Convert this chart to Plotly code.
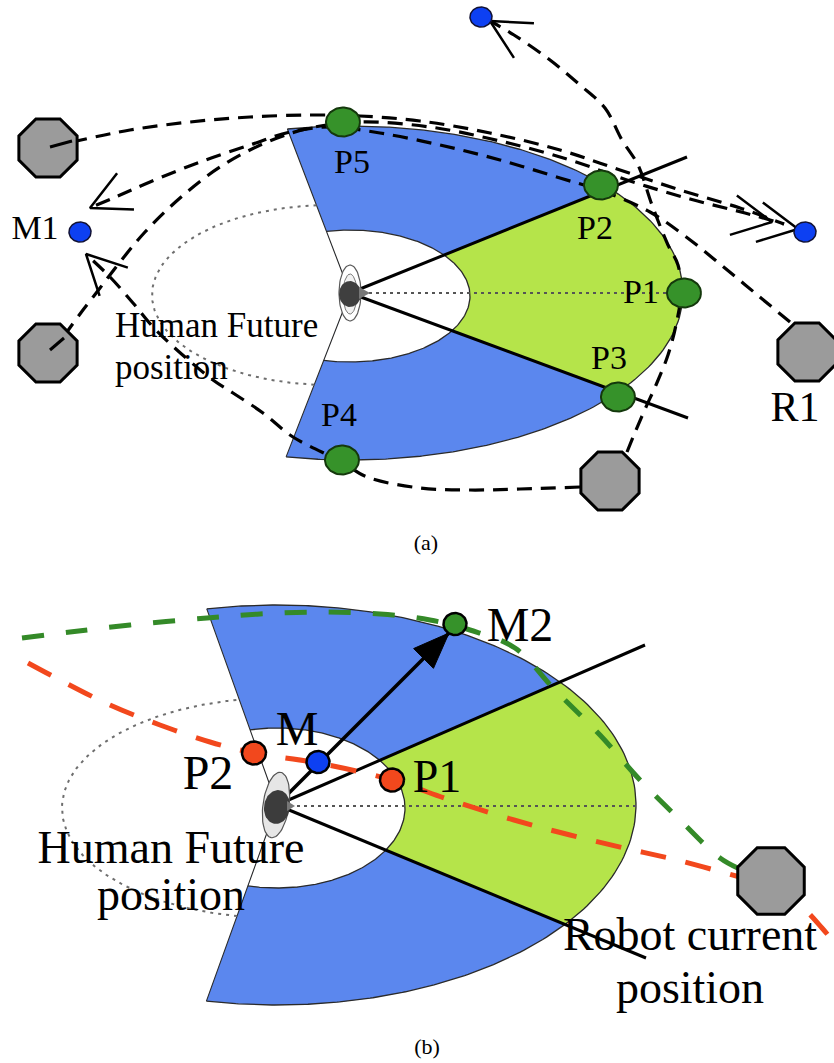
import numpy as np
import plotly.graph_objects as go

W, H = 834, 1063

# ======================= DATA =======================
# ---------- panel (a) ----------
A_HUMAN = [350, 293]
A_OUTER = [350, 293, 333, 167]      # cx, cy, rx, ry
A_INNER = [350, 296, 120, 66]
A_FUTURE = [330, 295, 178, 90]
A_SECTOR_DEG = [-110.9, 111.3]
A_RAY_END_X = [687, 688]
A_RAY_END_Y = [157, 418]
A_AXIS_END_X = [362, 668]
A_AXIS_Y = 293

A_POINT_LABELS = ["P1", "P2", "P3", "P4", "P5"]
A_POINT_X = [684, 601, 618, 342, 343]
A_POINT_Y = [293, 185, 397, 460, 122]
A_LABEL_X = [641, 595, 609, 339, 352]
A_LABEL_Y = [292, 228, 358, 415, 162]

A_GOAL_X = [80, 481, 805]
A_GOAL_Y = [232, 17, 232]

A_ROBOT_X = [48, 48, 610, 807]
A_ROBOT_Y = [148, 353, 481, 352]

A_PATH1_X = [72, 130, 190, 250, 310, 360, 420, 490, 560, 620, 680, 740, 784]
A_PATH1_Y = [142, 130, 122, 117, 115, 116, 121, 133, 150, 170, 190, 208, 224]
A_PATH2_X = [790, 755, 720, 685, 650, 605, 560, 500, 440, 380, 330, 290, 250, 200, 150, 118, 92]
A_PATH2_Y = [322, 293, 264, 236, 212, 192, 178, 160, 145, 133, 127, 132, 145, 162, 182, 196, 207]
A_PATH3_X = [64, 80, 100, 120, 145, 180, 220, 265, 310, 360, 430, 500, 570, 630, 690, 745, 784]
A_PATH3_Y = [336, 314, 288, 262, 232, 198, 167, 143, 128, 122, 127, 141, 160, 181, 199, 213, 224]
A_PATH4_X = [580, 520, 470, 420, 367, 342, 293, 263, 233, 213, 177, 153, 133, 110, 88]
A_PATH4_Y = [487, 489, 490, 488, 477, 462, 437, 413, 393, 380, 350, 327, 303, 277, 256]
A_PATH5_X = [627, 636, 646, 656, 668, 676, 681, 678, 668, 652, 638, 622, 605, 580, 550, 514, 492]
A_PATH5_Y = [452, 430, 407, 385, 355, 325, 293, 265, 245, 205, 165, 140, 108, 85, 60, 35, 22]

A_ARROW_TIP_X = [90, 86, 490, 772, 798]
A_ARROW_TIP_Y = [208, 254, 21, 222, 229]
A_ARROW_BACK_DEG = [-25, 45, 30, 190, 190]

A_ROBOT_HEAD_X = [[50, 72], [50, 64]]
A_ROBOT_HEAD_Y = [[147, 141], [350, 338]]

# ---------- panel (b) ----------
B_HUMAN = [277, 805]
B_OUTER = [277, 805, 359, 200]
B_INNER = [277, 808, 128, 80]
B_FUTURE = [277, 808, 215, 110]
B_SECTOR_DEG = [-109.7, 109.8]
B_RAY_END_X = [645, 646]
B_RAY_END_Y = [645, 958]
B_AXIS_END_X = [290, 636]
B_AXIS_Y = 806

B_M2 = [455, 624]
B_ARROW_TIP = [449, 633]
B_M = [318, 762]
B_RED_LABELS = ["P2", "P1"]
B_RED_X = [254, 392]
B_RED_Y = [753, 780]
B_ROBOT = [771, 881]

B_GREEN_X = [22, 70, 130, 207, 260, 320, 380, 430, 470, 515, 555, 600, 640, 680, 720, 742]
B_GREEN_Y = [638, 632, 625, 618, 614, 612, 614, 620, 630, 648, 690, 735, 780, 820, 858, 870]
B_RED_PATH_X = [28, 60, 110, 160, 210, 254, 318, 392, 450, 514, 570, 624, 677, 740, 771, 800, 822, 850]
B_RED_PATH_Y = [663, 680, 705, 725, 742, 753, 763, 780, 800, 820, 835, 848, 860, 877, 885, 905, 928, 962]

# ---------- text ----------
TEXTS = [
    # text, x, cap-middle y, size, align
    ("P5", 352, 162, 34, "center"),
    ("P2", 595, 228, 34, "center"),
    ("P1", 641, 292, 34, "center"),
    ("P3", 609, 358, 34, "center"),
    ("P4", 339, 415, 34, "center"),
    ("M1", 35, 228, 34, "center"),
    ("R1", 795, 407, 42, "center"),
    ("Human Future", 115, 325, 35, "left"),
    ("position", 115, 367, 35, "left"),
    ("(a)", 426, 543, 22, "center"),
    ("M2", 520, 625, 48, "center"),
    ("M", 297, 729, 48, "center"),
    ("P2", 208, 773, 48, "center"),
    ("P1", 437, 777, 46, "center"),
    ("Human Future", 171, 848, 46, "center"),
    ("position", 171, 895, 46, "center"),
    ("Robot current", 690, 935, 46, "center"),
    ("position", 690, 988, 46, "center"),
    ("(b)", 427, 1047, 22, "center"),
]

# ======================= COLOURS =======================
BLUE = "#5b87ee"
LIME = "#b5e44a"
PT_GREEN = "#36922a"
DASH_GREEN = "#348a28"
RED = "#f2481d"
GOAL_BLUE = "#0d40f2"
GRAY = "#9b9b9b"
EDGE = "#2a2a2a"

fig = go.Figure()


def ray_hit(ell, h, phi_deg):
    cx, cy, rx, ry = ell
    phi = np.radians(np.asarray(phi_deg, dtype=float))
    dx, dy = np.cos(phi), np.sin(phi)
    ex, ey = h[0] - cx, h[1] - cy
    A = (dx / rx) ** 2 + (dy / ry) ** 2
    B = 2 * (ex * dx / rx ** 2 + ey * dy / ry ** 2)
    C = (ex / rx) ** 2 + (ey / ry) ** 2 - 1
    s = (-B + np.sqrt(B * B - 4 * A * C)) / (2 * A)
    return h[0] + s * dx, h[1] + s * dy


def ellipse(cx, cy, rx, ry, rot=0.0, n=72):
    t = np.linspace(0, 2 * np.pi, n)
    x, y = rx * np.cos(t), ry * np.sin(t)
    c, s = np.cos(np.radians(rot)), np.sin(np.radians(rot))
    return cx + c * x - s * y, cy + s * x + c * y


def poly(x, y, fill, line_color=None, line_width=0):
    fig.add_trace(go.Scatter(
        x=list(x), y=list(y), mode="lines", fill="toself", fillcolor=fill,
        line=dict(color=line_color or fill, width=line_width),
        hoverinfo="skip", showlegend=False))


def line(x, y, color, width, dash="solid", shape="linear"):
    fig.add_trace(go.Scatter(
        x=list(x), y=list(y), mode="lines",
        line=dict(color=color, width=width, dash=dash, shape=shape, smoothing=1.0),
        hoverinfo="skip", showlegend=False))


def sector_panel(human, outer, inner, future, sector_deg, ray_x, ray_y, axis_x, axis_y):
    phi1, phi2 = sector_deg
    g1 = np.degrees(np.arctan2(ray_y[0] - human[1], ray_x[0] - human[0]))
    g2 = np.degrees(np.arctan2(ray_y[1] - human[1], ray_x[1] - human[0]))
    ph = np.linspace(phi1, phi2, 300)
    ox, oy = ray_hit(outer, human, ph)
    poly([human[0], *ox, human[0]], [human[1], *oy, human[1]], BLUE)
    pg = np.linspace(g1, g2, 150)
    gx, gy = ray_hit(outer, human, pg)
    poly([human[0], *gx, human[0]], [human[1], *gy, human[1]], LIME)
    ix, iy = ray_hit(inner, human, ph)
    poly([human[0], *ix, human[0]], [human[1], *iy, human[1]], "white")
    # outlines
    line(ox, oy, EDGE, 1.3)
    line(ix, iy, EDGE, 1.3)
    line([ox[0], human[0], ox[-1]], [oy[0], human[1], oy[-1]], EDGE, 1.1)
    # future-position dotted ellipse (outside the sector)
    pf = np.linspace(phi2, phi1 + 360, 200)
    fx, fy = ray_hit(future, human, pf)
    line(fx, fy, "#6e6e6e", 2, dash="3px,5px")
    # dotted axis
    line(axis_x, [axis_y, axis_y], "#555555", 2, dash="3px,4px")
    # black rays
    for ex_, ey_ in zip(ray_x, ray_y):
        line([human[0], ex_], [human[1], ey_], "black", 3)


def human_icon(cx, cy, panel):
    if panel == "a":
        x, y = ellipse(cx, cy, 11, 28)
        poly(x, y, "white", "#5a5a5a", 1.2)
        x, y = ellipse(cx, cy + 1, 7, 20)
        poly(x, y, "#f2f2f2", "#777777", 1)
        x, y = ellipse(cx, cy + 1, 11, 13)
        poly(x, y, "#3f3f3f")
        poly([cx + 9, cx + 20, cx + 9], [cy - 6, cy, cy + 6], "#777777")
    else:
        x, y = ellipse(cx - 1, cy, 13, 33, rot=8)
        poly(x, y, "#e6e6e6", "#555555", 1.2)
        x, y = ellipse(cx, cy + 2, 13, 17, rot=8)
        poly(x, y, "#3c3c3c")
        poly([cx + 10, cx + 18, cx + 10], [cy - 4, cy + 1, cy + 6], "#777777")


# ---------------- panel (a) ----------------
sector_panel(A_HUMAN, A_OUTER, A_INNER, A_FUTURE, A_SECTOR_DEG,
             A_RAY_END_X, A_RAY_END_Y, A_AXIS_END_X, A_AXIS_Y)

for px, py in [(A_PATH1_X, A_PATH1_Y), (A_PATH2_X, A_PATH2_Y), (A_PATH3_X, A_PATH3_Y),
               (A_PATH4_X, A_PATH4_Y), (A_PATH5_X, A_PATH5_Y)]:
    line(px, py, "black", 3.2, dash="15px,9px", shape="spline")

for tx, ty, bd in zip(A_ARROW_TIP_X, A_ARROW_TIP_Y, A_ARROW_BACK_DEG):
    L, half = 44, 27
    a1, a2 = np.radians(bd - half), np.radians(bd + half)
    line([tx + L * np.cos(a1), tx, tx + L * np.cos(a2)],
         [ty + L * np.sin(a1), ty, ty + L * np.sin(a2)], "black", 2.5)

human_icon(A_HUMAN[0], A_HUMAN[1], "a")

for px, py in zip(A_POINT_X, A_POINT_Y):
    x, y = ellipse(px, py, 17, 14.5)
    poly(x, y, PT_GREEN, "#14380c", 2)

for gx, gy in zip(A_GOAL_X, A_GOAL_Y):
    x, y = ellipse(gx, gy, 11, 10)
    poly(x, y, GOAL_BLUE, "#111133", 1.5)

fig.add_trace(go.Scatter(
    x=A_ROBOT_X, y=A_ROBOT_Y, mode="markers",
    marker=dict(symbol="octagon", size=63, color=GRAY, line=dict(color="black", width=3)),
    hoverinfo="skip", showlegend=False))
for hx, hy in zip(A_ROBOT_HEAD_X, A_ROBOT_HEAD_Y):
    line(hx, hy, "black", 3)

# ---------------- panel (b) ----------------
sector_panel(B_HUMAN, B_OUTER, B_INNER, B_FUTURE, B_SECTOR_DEG,
             B_RAY_END_X, B_RAY_END_Y, B_AXIS_END_X, B_AXIS_Y)

line(B_GREEN_X, B_GREEN_Y, DASH_GREEN, 5, dash="22px,22px", shape="spline")
line(B_RED_PATH_X, B_RED_PATH_Y, RED, 5, dash="26px,20px", shape="spline")

# arrow human -> M2
line([B_HUMAN[0], B_ARROW_TIP[0]], [B_HUMAN[1], B_ARROW_TIP[1]], "black", 3.5)
ux, uy = B_ARROW_TIP[0] - B_HUMAN[0], B_ARROW_TIP[1] - B_HUMAN[1]
nrm = np.hypot(ux, uy)
ux, uy = ux / nrm, uy / nrm
bx, by = B_ARROW_TIP[0] - 36 * ux, B_ARROW_TIP[1] - 36 * uy
poly([B_ARROW_TIP[0], bx - 14 * uy, bx + 14 * uy, B_ARROW_TIP[0]],
     [B_ARROW_TIP[1], by + 14 * ux, by - 14 * ux, B_ARROW_TIP[1]], "black", "black", 1)

human_icon(B_HUMAN[0], B_HUMAN[1], "b")

for px, py in zip(B_RED_X, B_RED_Y):
    x, y = ellipse(px, py, 12, 11.5)
    poly(x, y, RED, "black", 2.5)
x, y = ellipse(B_M[0], B_M[1], 11.5, 11)
poly(x, y, GOAL_BLUE, "black", 2.5)
x, y = ellipse(B_M2[0], B_M2[1], 11.5, 11)
poly(x, y, PT_GREEN, "black", 2.5)

fig.add_trace(go.Scatter(
    x=[B_ROBOT[0]], y=[B_ROBOT[1]], mode="markers",
    marker=dict(symbol="octagon", size=72, color=GRAY, line=dict(color="black", width=3)),
    hoverinfo="skip", showlegend=False))

# ---------------- text ----------------
for txt, tx, ty, fs, align in TEXTS:
    pos = "middle right" if align == "left" else "middle center"
    fig.add_trace(go.Scatter(
        x=[tx], y=[ty + 0.08 * fs], mode="text", text=[txt], textposition=pos,
        textfont=dict(family="Liberation Serif, Times New Roman, serif", size=fs, color="black"),
        hoverinfo="skip", showlegend=False))

fig.update_layout(
    width=W, height=H, margin=dict(l=0, r=0, t=0, b=0),
    paper_bgcolor="white", plot_bgcolor="white", showlegend=False,
    xaxis=dict(range=[0, W], visible=False, fixedrange=True),
    yaxis=dict(range=[H, 0], visible=False, fixedrange=True),
)

fig.write_html("out.html", config={"displayModeBar": False},
               post_script="document.body.style.margin='0px';document.body.style.overflow='hidden';")
